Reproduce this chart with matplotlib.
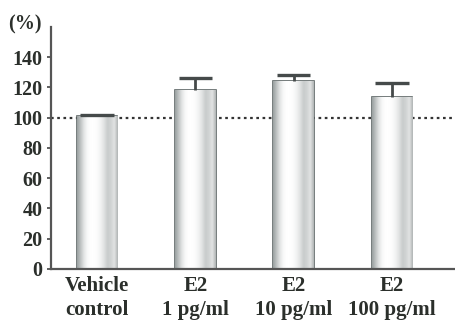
import numpy as np
import matplotlib
matplotlib.use("Agg")
import matplotlib.pyplot as plt
from matplotlib.colors import LinearSegmentedColormap

categories = ["Vehicle\ncontrol", "E2\n1 pg/ml", "E2\n10 pg/ml", "E2\n100 pg/ml"]
values = [101, 118, 124, 114]
errors = [1, 8.5, 4.5, 9]
yticks = [0, 20, 40, 60, 80, 100, 120, 140]
reference = 100

plt.rcParams['font.family'] = ['Liberation Serif', 'DejaVu Serif']
plt.rcParams['font.weight'] = 'bold'

fig = plt.figure(figsize=(4.55, 3.21), dpi=100)
ax = fig.add_axes([0.112, 0.162, 0.95, 0.754])

x = np.arange(len(categories))
vals = np.array(values, dtype=float)
errs = np.array(errors, dtype=float)
width = 0.41
bars = ax.bar(x, vals, width=width, color='#eef0f0', edgecolor='#5e6666', linewidth=1.2, zorder=2)

# cylindrical shading
prof = np.array([0.30, 0.55, 0.80, 0.95, 1.0, 1.0, 0.97, 0.9, 0.78, 0.62, 0.68, 0.8, 0.45])
cmap = LinearSegmentedColormap.from_list('cyl', ['#6f7878', '#ffffff'])
for b in bars:
    grad = np.interp(np.linspace(0, 1, 100), np.linspace(0, 1, len(prof)), prof)[None, :]
    im = ax.imshow(grad, cmap=cmap, vmin=0, vmax=1, aspect='auto',
                   extent=[b.get_x(), b.get_x() + b.get_width(), 0, b.get_height()],
                   zorder=2.5, interpolation='bicubic')
    im.set_clip_path(b)

cap_half = 0.17
ax.vlines(x, vals, vals + errs, color='#454a4a', linewidth=2, zorder=3)
ax.hlines(vals + errs, x - cap_half, x + cap_half, color='#454a4a', linewidth=2.4, zorder=3)

ax.axhline(reference, color='#333333', linestyle=(0, (1.2, 1.6)), linewidth=1.6, zorder=1)

ax.set_xlim(-0.47, 3.93)
ax.set_ylim(0, 160)
ax.set_yticks(yticks)
ax.set_yticklabels([str(t) for t in yticks], fontsize=14.5, fontweight='bold', color='#2b2f2b')
ax.set_xticks(x)
ax.set_xticklabels(categories, fontsize=15, fontweight='bold', color='#2b2f2b', linespacing=1.3)
ax.tick_params(axis='x', length=0, pad=5)
ax.tick_params(axis='y', length=3, width=1.2, color='#444444', pad=3)

for s in ['top', 'right']:
    ax.spines[s].set_visible(False)
for s in ['left', 'bottom']:
    ax.spines[s].set_color('#555555')
    ax.spines[s].set_linewidth(1.6)

fig.text(0.018, 0.925, "(%)", fontsize=14.5, fontweight='bold', color='#2b2f2b', va='center')

fig.savefig("out.png", dpi=100)
